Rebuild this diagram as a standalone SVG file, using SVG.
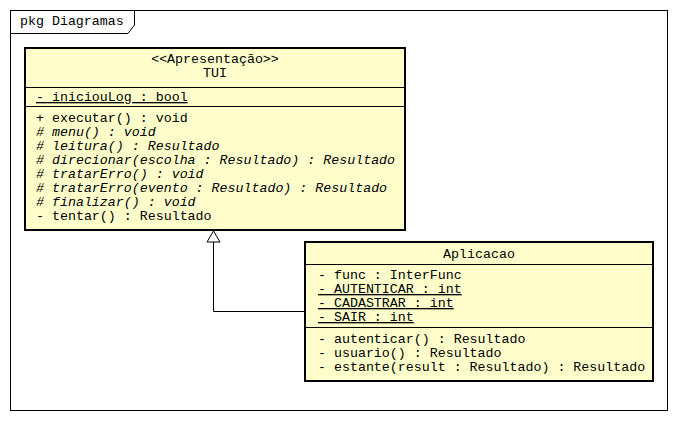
<svg xmlns="http://www.w3.org/2000/svg" width="679" height="421" viewBox="0 0 679 421">
<style>
text{font-family:"Liberation Mono","Courier New",monospace;font-size:13.3px;fill:#000}
.c{text-anchor:middle}
.i{font-style:italic}
.u{text-decoration:underline}
.box{fill:#FFFFCC;stroke:#000;stroke-width:2}
.sep{stroke:#000;stroke-width:1}
.frame{fill:none;stroke:#000;stroke-width:1}
</style>
<rect width="679" height="421" fill="#fff"/>
<g id="frame">
<rect class="frame" x="10.5" y="10.5" width="657" height="400"/>
<path class="frame" d="M10.5 33.5 H128 L134.5 25 V10.5"/>
<text x="20" y="25">pkg Diagramas</text>
</g>
<g id="TUI">
<rect class="box" x="25" y="48" width="380" height="182"/>
<line class="sep" x1="25" y1="87.5" x2="405" y2="87.5"/>
<line class="sep" x1="25" y1="106.5" x2="405" y2="106.5"/>
<text class="c" x="215" y="63">&lt;&lt;Apresentação&gt;&gt;</text>
<text class="c" x="215" y="77">TUI</text>
<text class="u" x="36" y="101">- iniciouLog : bool</text>
<text x="36" y="122">+ executar() : void</text>
<text class="i" x="36" y="136"># menu() : void</text>
<text class="i" x="36" y="150"># leitura() : Resultado</text>
<text class="i" x="36" y="164"># direcionar(escolha : Resultado) : Resultado</text>
<text class="i" x="36" y="178"># tratarErro() : void</text>
<text class="i" x="36" y="192"># tratarErro(evento : Resultado) : Resultado</text>
<text class="i" x="36" y="206"># finalizar() : void</text>
<text x="36" y="220">- tentar() : Resultado</text>
</g>
<g id="Aplicacao">
<rect class="box" x="305" y="242" width="348" height="139"/>
<line class="sep" x1="305" y1="264.5" x2="653" y2="264.5"/>
<line class="sep" x1="305" y1="327.5" x2="653" y2="327.5"/>
<text class="c" x="479" y="258">Aplicacao</text>
<text x="318" y="279">- func : InterFunc</text>
<text class="u" x="318" y="293">- AUTENTICAR : int</text>
<text class="u" x="318" y="307">- CADASTRAR : int</text>
<text class="u" x="318" y="321">- SAIR : int</text>
<text x="318" y="343">- autenticar() : Resultado</text>
<text x="318" y="357">- usuario() : Resultado</text>
<text x="318" y="371">- estante(result : Resultado) : Resultado</text>
</g>
<g id="connectors">
<polyline points="304,311.5 213.5,311.5 213.5,242" fill="none" stroke="#000" stroke-width="1"/>
<polygon points="213.5,231 207,242 220,242" fill="#fff" stroke="#000" stroke-width="1"/>
</g>
</svg>
